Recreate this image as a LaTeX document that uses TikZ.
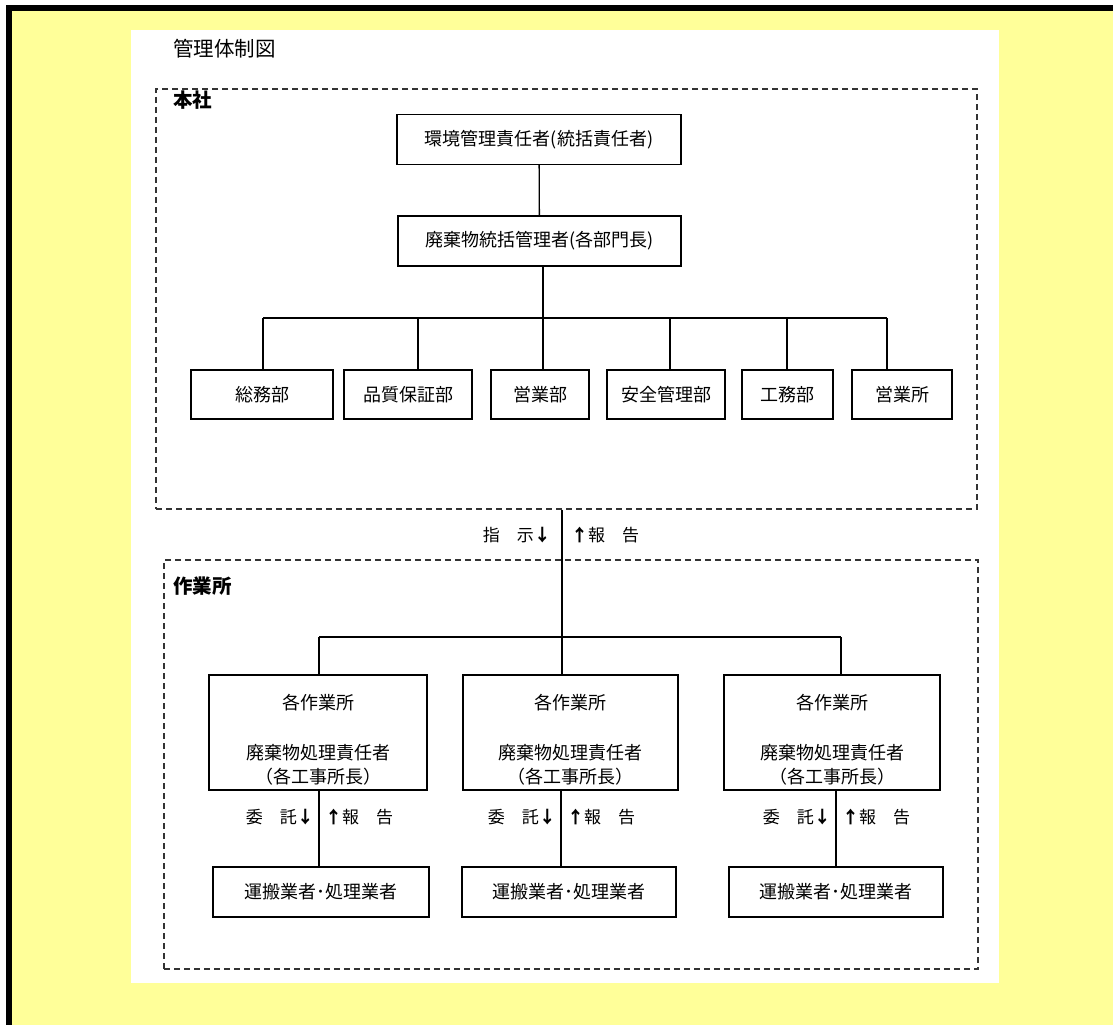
\documentclass[tikz,border=0pt]{standalone}
\usepackage{fontspec}
\setmainfont{Noto Sans CJK JP}
\usetikzlibrary{positioning}
\tikzset{>=latex}
\definecolor{paper}{HTML}{FFFF99}
\newcommand{\dn}{{\bfseries ↓}}
\newcommand{\up}{{\bfseries ↑}}
\tikzset{
  unit/.style={draw, line width=1.3pt, minimum height=50pt, inner sep=0pt, font=\fontsize{18}{24}\selectfont},
  area/.style={draw=black!80, line width=1.3pt, dash pattern=on 6pt off 4pt, inner sep=0pt},
  link/.style={line width=1.3pt},
  lbl/.style={inner sep=0pt, font=\fontsize{17}{20}\selectfont}
}

\begin{document}
\begin{tikzpicture}[x=1pt, y=-1pt]
\useasboundingbox (0,0) rectangle (1113,1025);
\fill[black] (6,5) rectangle (1113,1025);
\fill[paper] (12,11) rectangle (1113,1025);
\fill[white] (131,30) rectangle (999,983);

\node[lbl, anchor=west, font=\fontsize{20.5}{22}\selectfont] (title) at (173,49) {管理体制図};

% head office
\node[area, minimum width=821pt, minimum height=420pt] (hq) at (566.5,299) {};
\node[lbl, anchor=west, font=\fontsize{19.5}{22}\selectfont\bfseries] (hqname) at (173,100) {本社};
\node[unit, minimum width=284pt] (b1) at (539,139.5) {環境管理責任者(統括責任者)};
\node[unit, minimum width=283pt] (b2) at (539.5,241) {廃棄物統括管理者(各部門長)};
\node[unit, minimum width=142pt, minimum height=49pt] (d1) at (262,394.5) {総務部};
\node[unit, minimum width=128pt, minimum height=49pt] (d2) at (408,394.5) {品質保証部};
\node[unit, minimum width=98pt, minimum height=49pt] (d3) at (540,394.5) {営業部};
\node[unit, minimum width=118pt, minimum height=49pt] (d4) at (666,394.5) {安全管理部};
\node[unit, minimum width=91pt, minimum height=49pt] (d5) at (787.5,394.5) {工務部};
\node[unit, minimum width=100pt, minimum height=49pt] (d6) at (902,394.5) {営業所};

\coordinate (j1) at (263,318);
\coordinate (j2) at (418,318);
\coordinate (j3) at (543,318);
\coordinate (j4) at (670,318);
\coordinate (j5) at (787,318);
\coordinate (j6) at (887,318);
\draw[link] (b1) -- (b2);
\draw[link] (b2.south -| j3) -- (j3);
\draw[link] (j1) -- (j6);
\draw[link] (j1) -- (j1 |- d1.north);
\draw[link] (j2) -- (j2 |- d2.north);
\draw[link] (j3) -- (j3 |- d3.north);
\draw[link] (j4) -- (j4 |- d4.north);
\draw[link] (j5) -- (j5 |- d5.north);
\draw[link] (j6) -- (j6 |- d6.north);

% work sites
\node[area, minimum width=814pt, minimum height=409pt] (site) at (571,764.5) {};
\node[lbl, anchor=west, font=\fontsize{19.5}{22}\selectfont\bfseries] (sitename) at (173,586) {作業所};
\node[unit, minimum width=218pt, minimum height=115pt, align=center] (s1) at (318,732.5) {\rule{0pt}{30pt}各作業所\\[26pt]廃棄物処理責任者\\（各工事所長）};
\node[unit, minimum width=215pt, minimum height=115pt, align=center] (s2) at (570.5,732.5) {\rule{0pt}{30pt}各作業所\\[26pt]廃棄物処理責任者\\（各工事所長）};
\node[unit, minimum width=216pt, minimum height=115pt, align=center] (s3) at (832,732.5) {\rule{0pt}{30pt}各作業所\\[26pt]廃棄物処理責任者\\（各工事所長）};
\node[unit, minimum width=216pt] (c1) at (321,892) {運搬業者･処理業者};
\node[unit, minimum width=214pt] (c2) at (569,892) {運搬業者･処理業者};
\node[unit, minimum width=214pt] (c3) at (836,892) {運搬業者･処理業者};

\coordinate (m1) at (319,637);
\coordinate (m2) at (562,637);
\coordinate (m3) at (841,637);
\draw[link] (hq.south -| m2) -- (m2 |- s2.north);
\draw[link] (m1) -- (m3);
\draw[link] (m1) -- (m1 |- s1.north);
\draw[link] (m3) -- (m3 |- s3.north);
\node[lbl, anchor=east] (order) at (551,535) {指　示\dn};
\node[lbl, anchor=west] (report) at (571,535) {\up 報　告};

\coordinate (l1) at (319,840);
\coordinate (l2) at (561,840);
\coordinate (l3) at (836,840);
\draw[link] (s1.south -| l1) -- (c1.north -| l1);
\draw[link] (s2.south -| l2) -- (c2.north -| l2);
\draw[link] (s3.south -| l3) -- (c3.north -| l3);
\node[lbl, anchor=east] (ask1) at (314,817) {委　託\dn};
\node[lbl, anchor=west] (rep1) at (325,817) {\up 報　告};
\node[lbl, anchor=east] (ask2) at (556,817) {委　託\dn};
\node[lbl, anchor=west] (rep2) at (567,817) {\up 報　告};
\node[lbl, anchor=east] (ask3) at (831,817) {委　託\dn};
\node[lbl, anchor=west] (rep3) at (842,817) {\up 報　告};
\end{tikzpicture}
\end{document}
